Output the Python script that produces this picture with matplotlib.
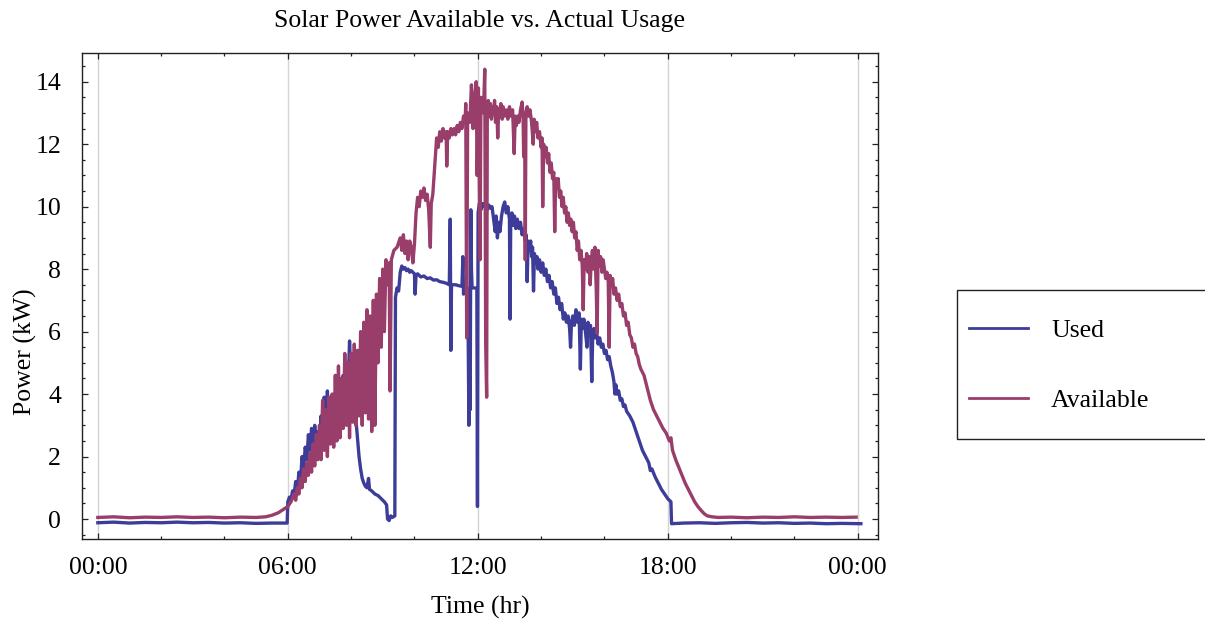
import numpy as np
import matplotlib
matplotlib.use("Agg")
import matplotlib.pyplot as plt
from matplotlib.ticker import MultipleLocator
from matplotlib.lines import Line2D
from matplotlib.patches import Rectangle

plt.rcParams["font.family"] = ["Liberation Serif", "DejaVu Serif"]

# =========================
# Data (hour of day, kW)
# =========================
used_points = [
    (0.0, -0.12), (0.5, -0.10), (1.0, -0.13), (1.5, -0.11), (2.0, -0.12),
    (2.5, -0.10), (3.0, -0.12), (3.5, -0.11), (4.0, -0.13), (4.5, -0.12),
    (5.0, -0.14), (5.5, -0.13), (5.98, -0.13),
    (6.0, 0.55), (6.05, 0.7), (6.1, 0.6), (6.15, 0.9), (6.2, 0.8), (6.25, 1.2),
    (6.3, 0.9), (6.35, 1.5), (6.4, 1.2), (6.45, 2.0), (6.5, 1.6), (6.55, 2.3),
    (6.6, 1.9), (6.65, 2.7), (6.7, 2.2), (6.75, 2.9), (6.8, 2.4), (6.85, 3.0),
    (6.9, 2.5), (6.95, 2.8), (7.0, 2.3), (7.05, 3.3), (7.1, 2.7), (7.15, 3.9),
    (7.2, 3.0), (7.25, 4.1), (7.3, 2.9), (7.35, 3.7), (7.4, 2.6), (7.45, 4.0),
    (7.5, 3.0), (7.55, 4.2), (7.6, 3.1), (7.65, 4.4), (7.7, 3.3), (7.75, 4.6),
    (7.8, 3.6), (7.85, 5.0), (7.9, 4.0), (7.95, 5.7), (8.0, 4.3), (8.05, 5.2),
    (8.1, 3.9), (8.15, 3.2), (8.2, 2.6), (8.25, 2.0), (8.3, 1.6), (8.35, 1.3),
    (8.4, 1.15), (8.45, 1.05), (8.5, 1.0), (8.55, 1.3), (8.58, 0.95), (8.65, 0.9),
    (8.75, 0.8), (8.85, 0.75), (8.95, 0.65), (9.05, 0.55), (9.12, 0.45),
    (9.15, 0.0), (9.2, -0.05), (9.25, 0.1), (9.3, 0.05), (9.38, 0.1),
    (9.4, 7.1), (9.45, 7.4), (9.5, 7.3), (9.55, 7.9), (9.6, 8.1), (9.65, 8.0),
    (9.7, 8.05), (9.75, 7.95), (9.8, 8.0), (9.85, 7.9), (9.9, 7.95),
    (10.0, 7.85), (10.02, 7.2), (10.05, 7.8), (10.1, 7.85), (10.2, 7.75),
    (10.3, 7.78), (10.4, 7.7), (10.5, 7.72), (10.6, 7.65), (10.7, 7.66),
    (10.8, 7.6), (10.9, 7.58), (11.0, 7.55), (11.1, 7.5), (11.13, 9.6),
    (11.15, 5.4), (11.17, 7.5), (11.3, 7.5), (11.4, 7.47), (11.5, 7.45),
    (11.53, 8.4), (11.55, 7.2), (11.58, 7.45), (11.68, 7.4), (11.7, 5.5),
    (11.72, 3.0), (11.74, 6.5), (11.76, 3.5), (11.78, 9.9), (11.8, 8.0),
    (11.82, 7.4), (11.9, 7.4), (11.97, 7.38), (11.99, 0.4), (12.01, 9.8),
    (12.05, 10.1), (12.1, 9.9), (12.15, 10.1), (12.2, 10.0), (12.25, 10.15),
    (12.3, 9.9), (12.35, 10.05), (12.4, 9.95), (12.45, 10.0), (12.5, 9.6),
    (12.55, 9.2), (12.58, 9.7), (12.62, 9.0), (12.66, 9.5), (12.7, 9.2),
    (12.75, 9.7), (12.8, 10.0), (12.85, 10.15), (12.9, 9.8), (12.95, 10.0),
    (13.0, 9.6), (13.02, 6.4), (13.04, 9.5), (13.08, 9.8), (13.12, 9.4),
    (13.16, 9.7), (13.2, 9.3), (13.25, 9.6), (13.3, 9.3), (13.35, 9.5),
    (13.4, 9.1), (13.45, 9.3), (13.5, 8.9), (13.53, 9.1), (13.56, 7.6),
    (13.59, 8.9), (13.63, 8.6), (13.67, 8.9), (13.7, 8.4), (13.73, 8.7),
    (13.76, 7.3), (13.79, 8.5), (13.83, 8.2), (13.87, 8.4), (13.9, 8.0),
    (13.95, 8.3), (14.0, 7.9), (14.05, 8.2), (14.1, 7.8), (14.15, 8.0),
    (14.2, 7.6), (14.25, 7.8), (14.3, 7.4), (14.35, 7.6), (14.4, 7.2),
    (14.45, 7.4), (14.5, 6.9), (14.55, 7.1), (14.6, 6.7), (14.65, 6.9),
    (14.7, 6.4), (14.75, 6.6), (14.8, 6.3), (14.85, 6.5), (14.9, 6.1),
    (14.93, 5.5), (14.96, 6.3), (15.0, 6.5), (15.05, 6.2), (15.1, 6.7),
    (15.15, 6.3), (15.2, 6.6), (15.24, 4.8), (15.27, 6.4), (15.3, 6.1),
    (15.35, 6.4), (15.4, 6.0), (15.45, 5.5), (15.48, 6.3), (15.52, 5.9),
    (15.56, 6.2), (15.6, 4.4), (15.63, 5.9), (15.67, 6.1), (15.7, 5.8),
    (15.75, 6.0), (15.8, 5.6), (15.85, 5.8), (15.9, 5.5), (15.95, 5.6),
    (16.0, 5.3), (16.05, 5.4), (16.1, 5.1), (16.15, 5.2), (16.2, 4.9),
    (16.25, 4.7), (16.3, 4.4), (16.33, 4.0), (16.36, 4.3), (16.4, 4.0),
    (16.45, 4.1), (16.5, 3.8), (16.55, 3.85), (16.6, 3.6), (16.65, 3.65),
    (16.7, 3.45), (16.8, 3.3), (16.9, 3.1), (17.0, 2.8), (17.1, 2.5),
    (17.2, 2.2), (17.3, 2.0), (17.4, 1.8), (17.45, 1.55), (17.5, 1.6),
    (17.6, 1.35), (17.7, 1.15), (17.8, 0.95), (17.9, 0.8), (18.0, 0.65),
    (18.1, 0.55), (18.12, -0.15), (18.5, -0.13), (19.0, -0.12), (19.5, -0.14),
    (20.0, -0.12), (20.5, -0.11), (21.0, -0.13), (21.5, -0.12), (22.0, -0.14),
    (22.5, -0.13), (23.0, -0.15), (23.5, -0.14), (24.1, -0.15),
]

available_points = [
    (0.0, 0.05), (0.5, 0.07), (1.0, 0.04), (1.5, 0.06), (2.0, 0.05),
    (2.5, 0.07), (3.0, 0.05), (3.5, 0.06), (4.0, 0.04), (4.5, 0.06),
    (5.0, 0.05), (5.3, 0.07), (5.5, 0.12), (5.7, 0.2), (5.85, 0.3),
    (6.0, 0.4), (6.1, 0.55), (6.2, 0.8), (6.25, 0.6), (6.3, 1.0), (6.35, 0.8),
    (6.4, 1.3), (6.45, 1.0), (6.5, 1.6), (6.55, 1.2), (6.6, 1.8), (6.65, 1.4),
    (6.7, 2.1), (6.75, 1.5), (6.8, 2.4), (6.85, 1.7), (6.9, 2.7), (6.95, 1.9),
    (7.0, 3.0), (7.05, 1.9), (7.1, 3.8), (7.15, 2.2), (7.2, 3.5), (7.25, 2.0),
    (7.3, 3.9), (7.35, 2.4), (7.4, 4.0), (7.45, 2.3), (7.5, 4.6), (7.55, 2.5),
    (7.6, 4.9), (7.65, 2.6), (7.7, 4.5), (7.75, 2.9), (7.8, 5.3), (7.85, 3.0),
    (7.9, 5.0), (7.95, 2.6), (8.0, 5.3), (8.05, 3.1), (8.1, 5.6), (8.15, 3.0),
    (8.2, 5.4), (8.25, 3.3), (8.3, 6.0), (8.35, 3.0), (8.4, 6.3), (8.45, 3.4),
    (8.5, 6.7), (8.55, 3.2), (8.6, 6.5), (8.65, 2.8), (8.7, 7.0), (8.75, 3.0),
    (8.8, 7.2), (8.85, 5.0), (8.9, 7.7), (8.95, 5.5), (9.0, 8.0), (9.05, 6.0),
    (9.1, 8.3), (9.15, 7.5), (9.2, 8.2), (9.23, 4.1), (9.27, 8.3), (9.35, 8.6),
    (9.45, 8.7), (9.55, 9.0), (9.6, 8.6), (9.65, 9.1), (9.7, 8.5), (9.75, 8.9),
    (9.8, 8.3), (9.85, 8.9), (9.9, 8.7), (9.95, 8.2), (10.0, 8.8), (10.05, 9.8),
    (10.1, 10.3), (10.15, 10.0), (10.2, 10.5), (10.25, 10.3), (10.3, 10.6),
    (10.35, 10.2), (10.4, 10.4), (10.45, 9.9), (10.5, 8.7), (10.53, 10.1),
    (10.58, 10.4), (10.62, 11.0), (10.65, 11.5), (10.7, 12.2), (10.75, 11.9),
    (10.8, 12.4), (10.85, 12.1), (10.9, 12.5), (10.95, 12.2), (11.0, 12.4),
    (11.02, 11.3), (11.05, 12.4), (11.1, 12.2), (11.15, 12.5), (11.2, 12.3),
    (11.25, 12.5), (11.3, 12.3), (11.35, 12.6), (11.4, 12.4), (11.45, 12.7),
    (11.5, 12.5), (11.55, 12.9), (11.6, 12.7), (11.62, 13.3), (11.65, 5.8),
    (11.68, 13.0), (11.75, 12.7), (11.8, 13.9), (11.85, 12.5), (11.9, 13.5),
    (11.95, 14.0), (11.98, 11.0), (12.02, 13.8), (12.07, 8.3), (12.1, 13.5),
    (12.18, 13.0), (12.22, 14.4), (12.25, 5.6), (12.28, 3.9), (12.3, 13.0),
    (12.33, 13.4), (12.36, 12.9), (12.4, 13.3), (12.43, 12.8), (12.47, 13.2),
    (12.5, 13.0), (12.53, 13.4), (12.56, 12.7), (12.6, 13.2), (12.63, 12.2),
    (12.66, 13.1), (12.7, 12.9), (12.73, 13.3), (12.77, 12.8), (12.8, 13.2),
    (12.85, 12.9), (12.9, 13.1), (12.95, 12.8), (13.0, 13.2), (13.05, 12.9),
    (13.1, 13.1), (13.15, 11.7), (13.18, 12.9), (13.22, 12.6), (13.26, 12.9),
    (13.3, 12.7), (13.35, 13.1), (13.4, 13.35), (13.43, 12.9), (13.45, 11.6),
    (13.48, 12.8), (13.5, 8.3), (13.52, 13.0), (13.56, 13.2), (13.6, 12.9),
    (13.65, 13.1), (13.7, 12.7), (13.75, 12.0), (13.78, 12.8), (13.82, 12.4),
    (13.86, 12.7), (13.9, 12.2), (13.95, 12.4), (14.0, 11.9), (14.03, 12.2),
    (14.05, 10.0), (14.08, 12.0), (14.12, 11.6), (14.16, 11.9), (14.2, 11.4),
    (14.24, 11.7), (14.28, 11.1), (14.32, 11.4), (14.36, 10.9), (14.4, 11.1),
    (14.43, 9.2), (14.46, 10.9), (14.5, 10.6), (14.54, 10.9), (14.58, 10.3),
    (14.62, 10.5), (14.66, 10.0), (14.7, 10.3), (14.74, 9.8), (14.78, 10.0),
    (14.82, 9.5), (14.86, 9.8), (14.9, 9.4), (14.94, 9.6), (14.98, 9.2),
    (15.02, 9.5), (15.06, 9.0), (15.1, 9.2), (15.14, 8.6), (15.18, 8.9),
    (15.22, 8.3), (15.26, 8.6), (15.3, 8.1), (15.33, 6.7), (15.36, 8.3),
    (15.4, 8.0), (15.44, 8.5), (15.48, 7.9), (15.52, 8.4), (15.55, 7.5),
    (15.58, 8.2), (15.62, 8.6), (15.66, 8.0), (15.7, 8.7), (15.74, 7.4),
    (15.77, 5.95), (15.8, 8.6), (15.84, 8.1), (15.88, 8.4), (15.92, 7.9),
    (15.96, 8.3), (16.0, 8.0), (16.04, 7.7), (16.08, 7.9), (16.12, 7.6),
    (16.15, 5.5), (16.18, 7.8), (16.22, 7.5), (16.26, 7.7), (16.3, 7.2),
    (16.35, 7.4), (16.4, 7.0), (16.45, 7.2), (16.5, 6.8), (16.55, 6.9),
    (16.6, 6.5), (16.65, 6.6), (16.7, 6.2), (16.75, 6.3), (16.8, 5.9),
    (16.85, 5.8), (16.9, 5.5), (16.95, 5.6), (17.0, 5.3), (17.05, 5.2),
    (17.1, 4.95), (17.15, 4.8), (17.25, 4.6), (17.35, 4.2), (17.45, 3.8),
    (17.55, 3.5), (17.65, 3.3), (17.75, 3.1), (17.85, 2.9), (17.95, 2.75),
    (18.05, 2.5), (18.1, 2.6), (18.15, 2.2), (18.25, 1.9), (18.35, 1.65),
    (18.45, 1.4), (18.55, 1.15), (18.65, 0.95), (18.75, 0.75), (18.85, 0.55),
    (18.95, 0.4), (19.05, 0.28), (19.15, 0.17), (19.25, 0.1), (19.4, 0.07),
    (19.6, 0.05), (20.0, 0.06), (20.5, 0.04), (21.0, 0.06), (21.5, 0.05),
    (22.0, 0.07), (22.5, 0.05), (23.0, 0.06), (23.5, 0.05), (23.95, 0.06),
]

series_labels = ["Used", "Available"]
series_colors = ["#3d3d99", "#993d6b"]

x_major = [0, 6, 12, 18, 24]
x_ticklabels = ["00:00", "06:00", "12:00", "18:00", "00:00"]

FS = 18.5

# =========================
# Figure
# =========================
fig = plt.figure(figsize=(12.05, 6.22), dpi=100)
ax = fig.add_axes([82 / 1205, 1 - 539 / 622, (878 - 82) / 1205, (539 - 53) / 622])

for pts, color, label in zip([used_points, available_points], series_colors, series_labels):
    t = np.array([p[0] for p in pts])
    kw = np.array([p[1] for p in pts])
    ax.plot(t, kw, color=color, lw=2.4, label=label, zorder=3)

ax.set_xlim(-0.5, 24.64)
ax.set_ylim(-0.64, 14.92)

ax.set_xticks(x_major)
ax.set_xticklabels(x_ticklabels)
ax.xaxis.set_minor_locator(MultipleLocator(2))
ax.yaxis.set_major_locator(MultipleLocator(2))
ax.yaxis.set_minor_locator(MultipleLocator(0.5))

ax.tick_params(which="both", direction="in", top=True, right=True,
               labelsize=FS, color="#222222", width=0.9)
ax.tick_params(which="major", length=4.5)
ax.tick_params(which="minor", length=2.5)
ax.tick_params(axis="x", which="major", pad=13)
ax.tick_params(axis="y", which="major", pad=15)

for sp in ax.spines.values():
    sp.set_color("#222222")
    sp.set_linewidth(1.0)

ax.grid(axis="x", which="major", color="#d4d4d4", lw=1.0, zorder=0)
ax.set_axisbelow(True)

ax.set_title("Solar Power Available vs. Actual Usage", fontsize=FS, pad=19)
ax.set_xlabel("Time (hr)", fontsize=FS, labelpad=12)
ax.set_ylabel("Power (kW)", fontsize=FS)
ax.yaxis.set_label_coords(-0.0565, 0.385)

# ---- legend box on the right ----
fig.patches.append(Rectangle((957 / 1205, 1 - 439 / 622), 0.3, (439 - 290) / 622,
                             transform=fig.transFigure, facecolor="white",
                             edgecolor="#222222", lw=1.0))
handles = [Line2D([], [], color=c, lw=2.0) for c in series_colors]
fig.legend(handles, series_labels, loc="upper left",
           bbox_to_anchor=(969 / 1205, 1 - 319 / 622),
           frameon=False, fontsize=FS, handlelength=2.3, handletextpad=0.9,
           labelspacing=1.84, borderpad=0, borderaxespad=0)

fig.savefig("out.png", dpi=100)
